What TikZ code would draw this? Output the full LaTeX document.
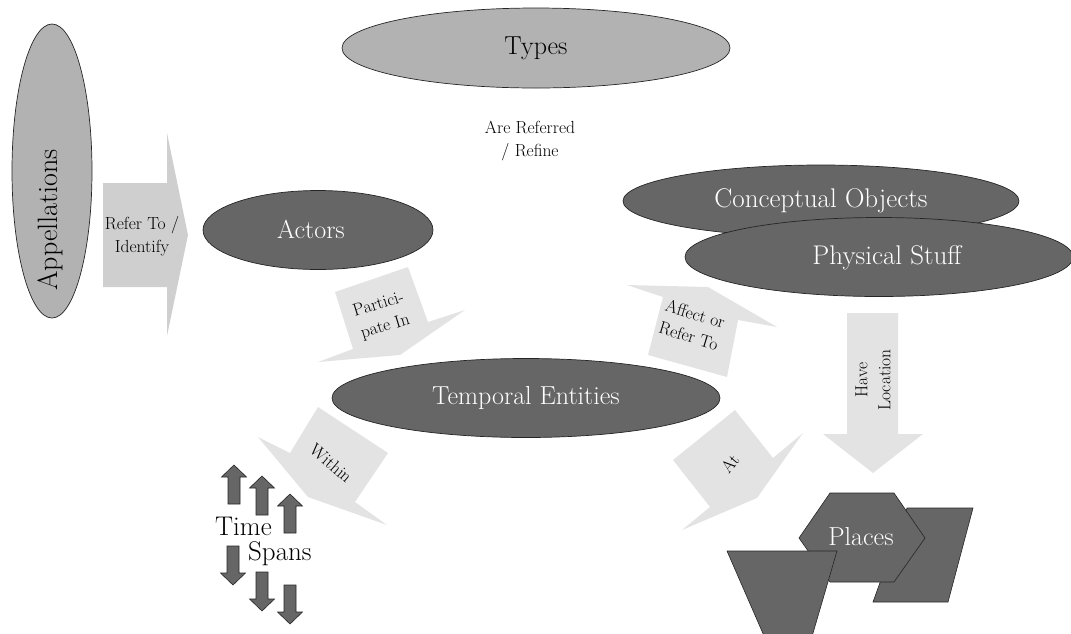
\documentclass[tikz,border=0pt]{standalone}
\usepackage{fontspec}
\usetikzlibrary{shapes.geometric}
\definecolor{lightell}{HTML}{B2B2B2}
\definecolor{darkell}{HTML}{666666}
\definecolor{arrfill}{HTML}{E3E3E3}
\definecolor{arrfillb}{HTML}{CFCFCF}
\begin{document}
\begin{tikzpicture}[x=1pt,y=-1pt,
  lightellipse/.style={ellipse, draw=black!85, line width=0.7pt, fill=lightell, inner sep=0pt},
  darkellipse/.style={ellipse, draw=black!85, line width=0.7pt, fill=darkell, inner sep=0pt, text=white},
  bigtext/.style={font=\fontsize{26}{30}\selectfont},
  smalltext/.style={font=\fontsize{17.5}{23}\selectfont, align=center},
  blockarrow/.style={fill=arrfill, draw=none},
  placeshape/.style={fill=darkell, draw=black!85, line width=0.6pt},
  uparrow/.pic={\draw[placeshape] (0,0) -- (12.5,12) -- (6,12) -- (6,39) -- (-6,39) -- (-6,12) -- (-12.5,12) -- cycle;},
  downarrow/.pic={\draw[placeshape] (0,0) -- (12.5,-12) -- (6,-12) -- (6,-39) -- (-6,-39) -- (-6,-12) -- (-12.5,-12) -- cycle;}
]
\useasboundingbox (0,0) rectangle (1071,633);

% block arrows
\fill[arrfillb] (103,183) -- (167,183) -- (167,133) -- (188,235) -- (167,336) -- (167,287) -- (103,287) -- cycle;
\node[smalltext] (refer) at (142,236) {Refer To /\\Identify};

\fill[blockarrow] (335,292) -- (408,267) -- (428,322) -- (465,310) -- (400,355) -- (318,362) -- (353,349) -- cycle;
\node[smalltext, rotate=17] (partic) at (382,316) {Partici-\\pate In};

\fill[blockarrow] (318,407) -- (388,453) -- (355,502) -- (387,525) -- (308,497) -- (258,437) -- (290,453) -- cycle;
\node[smalltext, rotate=-41] (within) at (331,463) {Within};

\fill[blockarrow] (627,285) -- (708,287) -- (777,327) -- (738,320) -- (727,377) -- (648,355) -- (663,297) -- cycle;
\node[smalltext, rotate=-17] (affect) at (692,325) {Affect or\\Refer To};

\fill[blockarrow] (735,410) -- (773,458) -- (803,433) -- (757,498) -- (682,530) -- (710,507) -- (673,460) -- cycle;
\node[smalltext, rotate=50] (at) at (730,464) {At};

\fill[blockarrow] (847,313) -- (898,313) -- (898,434) -- (923,434) -- (873,473) -- (823,434) -- (847,434) -- cycle;
\node[smalltext, rotate=90] (haveloc) at (873,380) {Have\\Location};

\node[smalltext] (refine) at (530,141) {Are Referred\\/ Refine};

% ellipses
\node[lightellipse, minimum width=80pt, minimum height=294pt] (appel) at (52,171) {};
\node[bigtext, rotate=90, font=\fontsize{28}{32}\selectfont] (appeltext) at (50,220) {Appellations};

\node[lightellipse, bigtext, minimum width=388pt, minimum height=80pt] (types) at (536,48) {Types};

\node[darkellipse, minimum width=230pt, minimum height=79pt] (actors) at (318,230) {};
\node[bigtext, text=white] (actorstext) at (311,229) {Actors};

\node[darkellipse, bigtext, minimum width=396pt, minimum height=72pt, font=\fontsize{27}{30}\selectfont] (concept) at (821,201) {Conceptual Objects};
\node[darkellipse, minimum width=388pt, minimum height=79pt] (phys) at (879,257) {};
\node[bigtext, text=white, font=\fontsize{27}{30}\selectfont] (phystext) at (887,258) {Physical Stuff};

\node[darkellipse, bigtext, minimum width=388pt, minimum height=79pt] (temporal) at (526,398) {Temporal Entities};

% places
\draw[placeshape] (907,508) -- (973,508) -- (948,602) -- (873,602) -- cycle;
\draw[placeshape] (830,493) -- (894,493) -- (925,538) -- (894,582) -- (830,582) -- (799,538) -- cycle;
\node[bigtext, text=white] (places) at (861,537) {Places};
\draw[placeshape] (768,645) -- (727,551) -- (837,551) -- (809.5,645);

% time spans
\pic at (234,465) {uparrow};
\pic at (262,476) {uparrow};
\pic at (290,494) {uparrow};
\pic at (233,585) {downarrow};
\pic at (262,611) {downarrow};
\pic at (290,624) {downarrow};
\node[bigtext, anchor=base west, font=\fontsize{27}{30}\selectfont, inner sep=0pt] (time) at (215,535) {Time};
\node[bigtext, anchor=base west, font=\fontsize{27}{30}\selectfont, inner sep=0pt] (spans) at (248,560) {Spans};
\end{tikzpicture}
\end{document}
